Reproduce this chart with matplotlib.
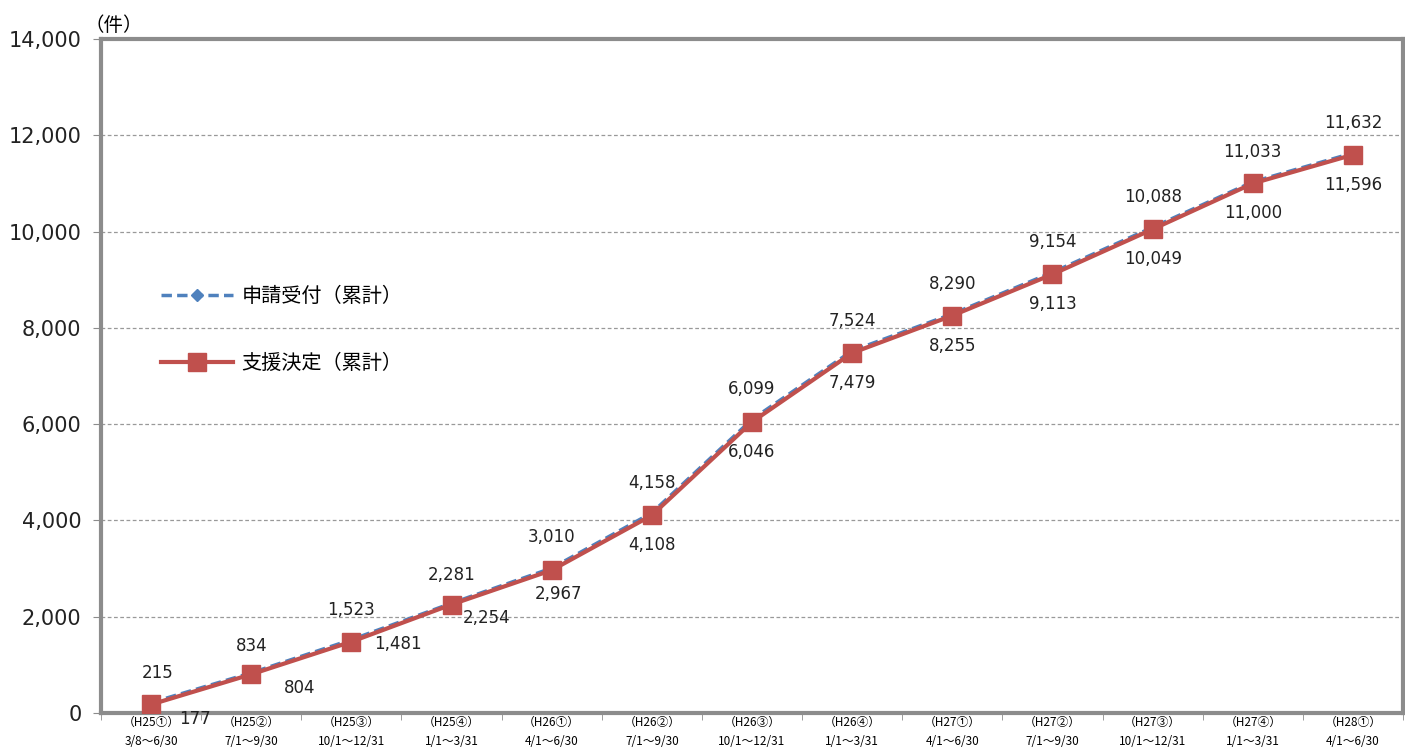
import matplotlib
matplotlib.use("Agg")
import matplotlib.pyplot as plt
import numpy as np

plt.rcParams['font.family'] = ['Noto Sans CJK JP', 'DejaVu Sans']

periods = ["（H25①）\n3/8～6/30", "（H25②）\n7/1～9/30", "（H25③）\n10/1～12/31",
           "（H25④）\n1/1～3/31", "（H26①）\n4/1～6/30", "（H26②）\n7/1～9/30",
           "（H26③）\n10/1～12/31", "（H26④）\n1/1～3/31", "（H27①）\n4/1～6/30",
           "（H27②）\n7/1～9/30", "（H27③）\n10/1～12/31", "（H27④）\n1/1～3/31",
           "（H28①）\n4/1～6/30"]
applied = [215, 834, 1523, 2281, 3010, 4158, 6099, 7524, 8290, 9154, 10088, 11033, 11632]
decided = [177, 804, 1481, 2254, 2967, 4108, 6046, 7479, 8255, 9113, 10049, 11000, 11596]
name_applied = "申請受付（累計）"
name_decided = "支援決定（累計）"

# label offsets in pixels (dx, dy), dy positive = up
off_app = [(7, 30), (0, 27), (0, 30), (0, 28), (0, 31)] + [(0, 30)] * 8
off_dec = [(44, -15), (48, -14), (47, -2), (35, -13), (7, -24)] + [(0, -30)] * 8

blue = "#4F81BD"
red = "#C0504D"
grey = "#8C8C8C"
num_font = "DejaVu Sans"

fig = plt.figure(figsize=(14.05, 7.53), dpi=100)
ax = fig.add_axes([0.0719, 0.0531, 0.9267, 0.8951])

x = np.arange(len(periods))
ax.plot(x, applied, color=blue, linestyle=(0, (3, 1.5)), linewidth=2.5,
        marker="D", markersize=6, label=name_applied, zorder=3)
ax.plot(x, decided, color=red, linewidth=3, marker="s", markersize=13,
        label=name_decided, zorder=4)

for i in range(len(x)):
    ax.annotate(f"{applied[i]:,}", (x[i], applied[i]), xytext=off_app[i],
                textcoords="offset pixels", ha="center", va="center",
                fontsize=12, family=num_font, color="#222222")
    ax.annotate(f"{decided[i]:,}", (x[i], decided[i]), xytext=off_dec[i],
                textcoords="offset pixels", ha="center", va="center",
                fontsize=12, family=num_font, color="#222222")

ax.set_xlim(-0.5, len(periods) - 0.5)
ax.set_ylim(0, 14000)
ax.set_yticks(np.arange(0, 14001, 2000))
ax.set_yticklabels([f"{v:,}" for v in range(0, 14001, 2000)], fontsize=15,
                   family=num_font, color="#222222")
ax.set_xticks(x)
ax.set_xticklabels(periods, fontsize=8.5, linespacing=1.6)
ax.set_xticks(np.arange(-0.5, len(periods)), minor=True)
ax.tick_params(axis="x", which="major", length=0, pad=2)
ax.tick_params(axis="x", which="minor", length=5, color=grey)
ax.tick_params(axis="y", length=6, color=grey, pad=8)

for yv in range(2000, 14000, 2000):
    ax.axhline(yv, color="#999999", linestyle=(0, (3, 2)), linewidth=0.9, zorder=1)

for s in ax.spines.values():
    s.set_color(grey)
    s.set_linewidth(3)

ax.text(-0.013, 1.005, "（件）", transform=ax.transAxes, fontsize=14,
        ha="left", va="bottom")

ax.legend(loc="center left", bbox_to_anchor=(0.032, 0.568), frameon=False,
          fontsize=14.5, handlelength=3.6, handletextpad=0.4, labelspacing=2.3)

fig.savefig("out.png", dpi=100)
